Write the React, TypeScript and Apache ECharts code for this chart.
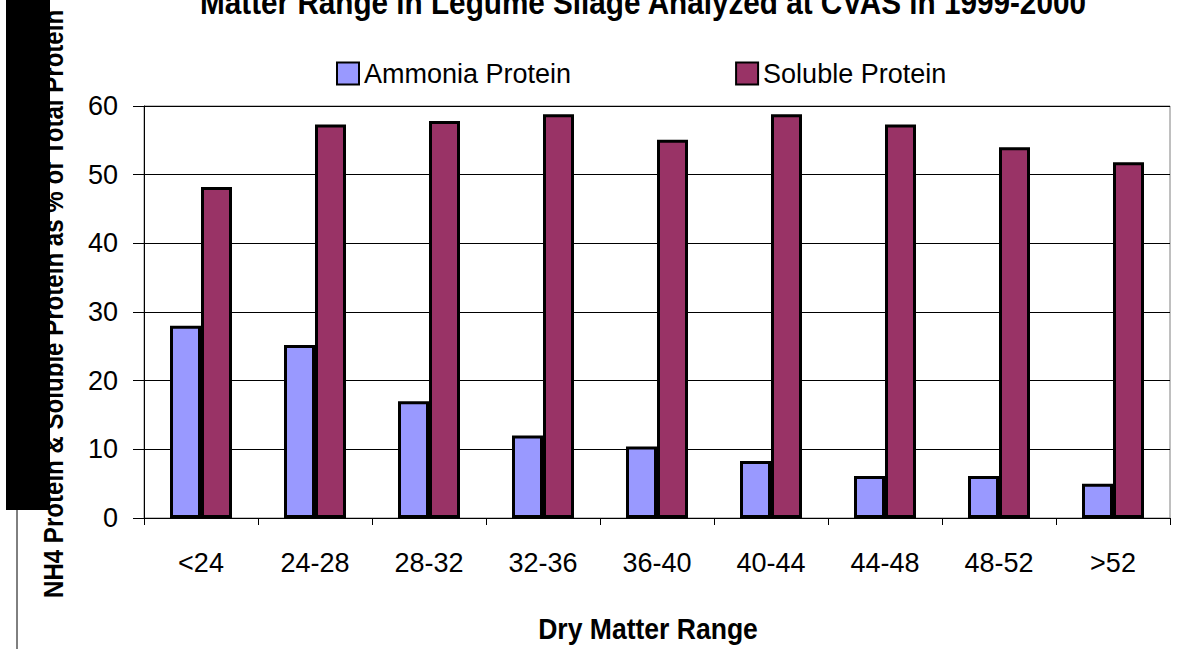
import React, { useEffect, useRef } from "react";
import * as echarts from "echarts";

const categories = ["<24", "24-28", "28-32", "32-36", "36-40", "40-44", "44-48", "48-52", ">52"];
const ammoniaProtein = [28, 25.2, 17, 12, 10.4, 8.3, 6.1, 6.1, 5];
const solubleProtein = [48.2, 57.3, 57.8, 58.8, 55.1, 58.8, 57.3, 54, 51.8];
const yTicks = { min: 0, max: 60, interval: 10 };
const titleText = "Matter Range in Legume Silage Analyzed at CVAS in 1999-2000";
const yTitle = "NH4 Protein & Soluble Protein as % of Total Protein";
const xTitle = "Dry Matter Range";

const FONT = "'Liberation Sans', Arial, sans-serif";

export default function App() {
  const ref = useRef<HTMLDivElement>(null);
  useEffect(() => {
    if (!ref.current) return;
    const chart = echarts.init(ref.current, undefined, { renderer: "svg" });
    chart.setOption({
      animation: false,
      backgroundColor: "#ffffff",
      textStyle: { fontFamily: FONT },
      legend: {
        left: 331,
        top: 55,
        icon: "rect",
        itemWidth: 22,
        itemHeight: 22,
        itemGap: 164,
        textStyle: { fontFamily: FONT, fontSize: 27, color: "#000" },
        data: ["Ammonia Protein", "Soluble Protein"],
      },
      grid: {
        left: 144,
        right: 15,
        top: 106,
        bottom: 131,
        show: true,
        borderColor: "#808080",
        borderWidth: 1,
        backgroundColor: "transparent",
      },
      xAxis: {
        type: "category",
        data: categories,
        axisLine: { lineStyle: { color: "#000", width: 1 } },
        axisTick: { show: true, length: 7, lineStyle: { color: "#000" } },
        axisLabel: { fontFamily: FONT, fontSize: 27, color: "#000", margin: 31 },
      },
      yAxis: {
        type: "value",
        min: yTicks.min,
        max: yTicks.max,
        interval: yTicks.interval,
        axisLine: { show: true, lineStyle: { color: "#000", width: 1 } },
        axisTick: { show: true, length: 11, lineStyle: { color: "#000" } },
        axisLabel: { fontFamily: FONT, fontSize: 27, color: "#000", margin: 26 },
        splitLine: { show: true, lineStyle: { color: "#000", width: 1 } },
      },
      series: [
        {
          name: "Ammonia Protein",
          type: "bar",
          data: ammoniaProtein,
          barWidth: 31,
          barGap: "0%",
          itemStyle: { color: "#9999FF", borderColor: "#000", borderWidth: 3 },
        },
        {
          name: "Soluble Protein",
          type: "bar",
          data: solubleProtein,
          barWidth: 31,
          barGap: "0%",
          itemStyle: { color: "#993366", borderColor: "#000", borderWidth: 3 },
        },
      ],
      graphic: [
        {
          type: "text",
          x: 643,
          y: 19,
          scaleX: 0.9,
          style: {
            text: titleText,
            fontFamily: FONT,
            fontSize: 33,
            fontWeight: "bold",
            fill: "#000",
            textAlign: "center",
            textVerticalAlign: "bottom",
          },
        },
        {
          type: "text",
          x: 648,
          y: 628,
          scaleX: 0.885,
          style: {
            text: xTitle,
            fontFamily: FONT,
            fontSize: 30,
            fontWeight: "bold",
            fill: "#000",
            textAlign: "center",
            textVerticalAlign: "middle",
          },
        },
        {
          type: "text",
          x: 53,
          y: 598,
          rotation: Math.PI / 2,
          scaleX: 0.86,
          style: {
            text: yTitle,
            fontFamily: FONT,
            fontSize: 28,
            fontWeight: "bold",
            fill: "#000",
            textAlign: "left",
            textVerticalAlign: "middle",
          },
        },
        {
          type: "rect",
          shape: { x: 6, y: 0, width: 44, height: 510 },
          style: { fill: "#000" },
        },
        {
          type: "line",
          shape: { x1: 17, y1: 510, x2: 17, y2: 649 },
          style: { stroke: "#000", lineWidth: 1 },
        },
      ],
    });
    return () => chart.dispose();
  }, []);
  return <div ref={ref} style={{ width: 1185, height: 649, position: "fixed", left: 0, top: 0 }} />;
}
